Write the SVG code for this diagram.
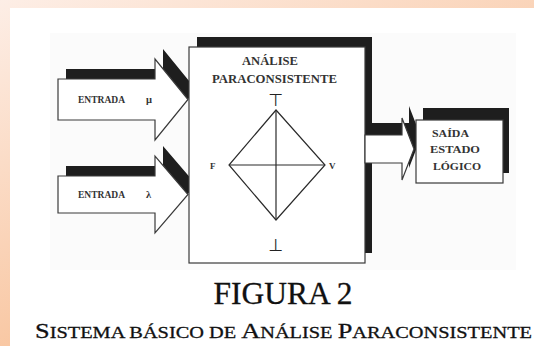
<svg xmlns="http://www.w3.org/2000/svg" width="534" height="346" viewBox="0 0 534 346">
<defs>
<linearGradient id="bg" gradientUnits="userSpaceOnUse" x1="0" y1="0" x2="150" y2="346">
<stop offset="0" stop-color="#fdeee6"/>
<stop offset="1" stop-color="#f8c198"/>
</linearGradient>
<style>
.sh{fill:#1e1e1e;stroke:none}
.wh{fill:#ffffff;stroke:#3a3a3a;stroke-width:1.2;stroke-linejoin:miter}
.ln{stroke:#2a2a2a;stroke-width:1.2;fill:none}
.lbl{font-family:"Liberation Serif","Times New Roman",serif;font-weight:bold;fill:#333333}
.cap{font-family:"Liberation Serif","Times New Roman",serif;fill:#111;stroke:#111;stroke-width:0.3}
.sym{font-family:"DejaVu Sans",sans-serif;fill:#222}
</style>
</defs>
<g id="background">
<rect x="0" y="0" width="534" height="346" fill="url(#bg)"/>
<rect x="10" y="8" width="524" height="338" fill="#ffffff"/>
<rect x="50" y="33" width="466" height="237" fill="#fbfbfb"/>
</g>
<g id="main-box-shadow">
<rect class="sh" x="197" y="37" width="175" height="216"/>
</g>
<g id="connectors">
<g id="input-mu">
<polygon class="sh" points="66,69 163,69 163,49 196,89.5 163,130 163,110 66,110"/>
<polygon class="wh" points="58,79 155,79 155,59 188,99.5 155,140 155,120 58,120"/>
<text class="lbl" x="78" y="103" font-size="10.5" textLength="47" lengthAdjust="spacingAndGlyphs">ENTRADA</text>
<text class="lbl" x="146" y="103" font-size="10.5">μ</text>
</g>
<g id="input-lambda">
<polygon class="sh" points="66,166 163,166 163,146 196,184.5 163,223 163,203 66,203"/>
<polygon class="wh" points="58,176 155,176 155,156 188,194.5 155,233 155,213 58,213"/>
<text class="lbl" x="78" y="198" font-size="10.5" textLength="47" lengthAdjust="spacingAndGlyphs">ENTRADA</text>
<text class="lbl" x="146" y="198" font-size="10.5">λ</text>
</g>
</g>
<g id="main-box">
<rect class="wh" x="189" y="47" width="176" height="216"/>
<text class="lbl" x="270" y="65" font-size="11.5" text-anchor="middle" textLength="56" lengthAdjust="spacingAndGlyphs">ANÁLISE</text>
<text class="lbl" x="274.5" y="83" font-size="11.5" text-anchor="middle" textLength="125" lengthAdjust="spacingAndGlyphs">PARACONSISTENTE</text>
<text class="sym" x="276" y="106" font-size="17" text-anchor="middle">⊤</text>
<polygon class="ln" points="276,110 325,165 276,220 229,165"/>
<line class="ln" x1="276" y1="110" x2="276" y2="220"/>
<line class="ln" x1="229" y1="165" x2="325" y2="165"/>
<text class="lbl" x="210" y="169" font-size="9">F</text>
<text class="lbl" x="329" y="169" font-size="9">V</text>
<text class="sym" x="276" y="251" font-size="17" text-anchor="middle">⊥</text>
</g>
<g id="output-arrow">
<polygon class="sh" points="372,123 409,123 409,106 421,137 409,168 409,151 372,151"/>
<polygon class="wh" points="365,135 402,135 402,118 414,149 402,180 402,163 365,163"/>
</g>
<g id="output-box">
<rect class="sh" x="423" y="108" width="86" height="65"/>
<rect class="wh" x="416" y="120" width="87" height="63"/>
<text class="lbl" x="432" y="137" font-size="11" textLength="37" lengthAdjust="spacingAndGlyphs">SAÍDA</text>
<text class="lbl" x="430" y="153" font-size="11" textLength="50" lengthAdjust="spacingAndGlyphs">ESTADO</text>
<text class="lbl" x="433" y="170" font-size="11" textLength="48" lengthAdjust="spacingAndGlyphs">LÓGICO</text>
</g>
<g id="caption">
<text class="cap" x="283" y="304" font-size="31" text-anchor="middle" textLength="139" lengthAdjust="spacingAndGlyphs">FIGURA 2</text>
<text class="cap" x="35" y="338" font-size="17" textLength="497" lengthAdjust="spacingAndGlyphs"><tspan font-size="22">S</tspan>ISTEMA BÁSICO DE <tspan font-size="22">A</tspan>NÁLISE <tspan font-size="22">P</tspan>ARACONSISTENTE</text>
</g>
</svg>
